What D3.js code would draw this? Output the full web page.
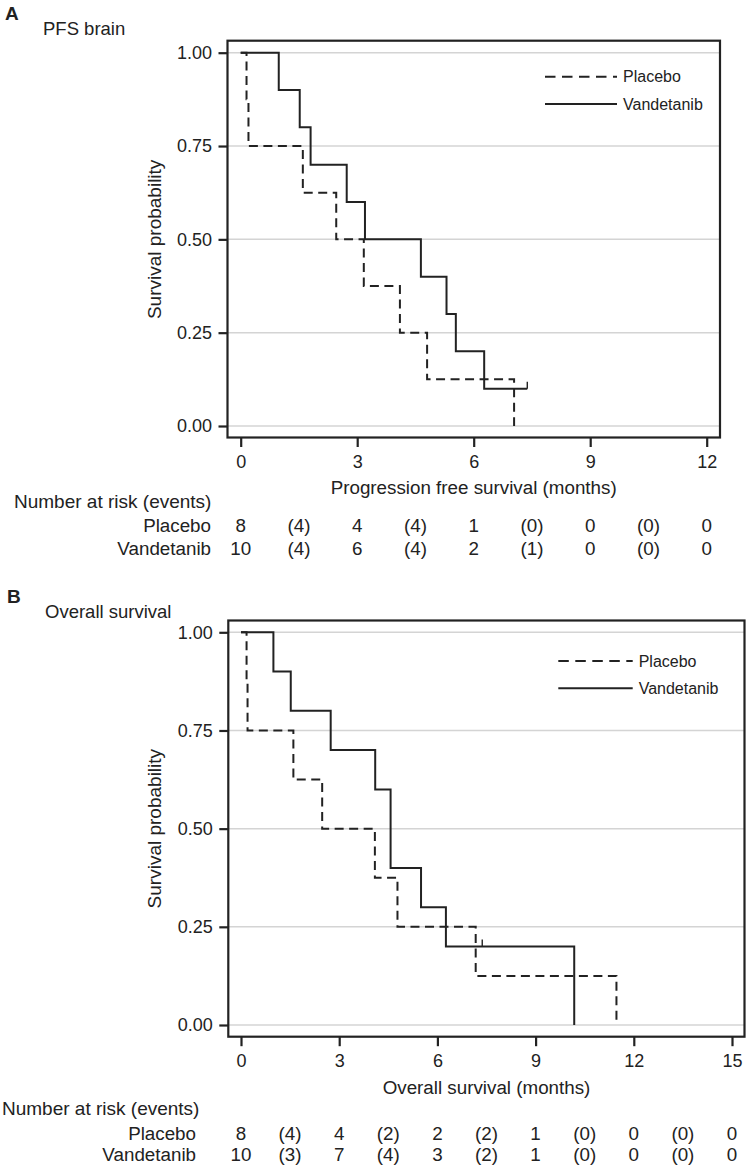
<!DOCTYPE html>
<html>
<head>
<meta charset="utf-8">
<script src="https://cdn.jsdelivr.net/npm/d3@7"></script>
<style>
  html, body { margin: 0; padding: 0; background: #fff; }
  svg text { font-family: "Liberation Sans", Arial, Helvetica, sans-serif; fill: #222; }
</style>
</head>
<body>
<svg id="chart" width="746" height="1167"></svg>
<script>
// ---------------- DATA ----------------
// Panel A: PFS brain
const pfsPlaceboTime = [0, 0.15, 0.2, 1.6, 2.46, 3.17, 4.1, 4.8, 7.04];
const pfsPlaceboSurv = [1, 0.875, 0.75, 0.625, 0.5, 0.375, 0.25, 0.125, 0];
const pfsVandTime = [0, 0.98, 1.52, 1.8, 2.73, 3.2, 4.64, 5.3, 5.54, 6.27, 7.38];
const pfsVandSurv = [1, 0.9, 0.8, 0.7, 0.6, 0.5, 0.4, 0.3, 0.2, 0.1, 0.1];
const pfsVandCensorTime = [7.38];
const pfsVandCensorSurv = [0.1];
const pfsXTicks = [0, 3, 6, 9, 12];
const pfsRiskTimes = [0, 1.5, 3, 4.5, 6, 7.5, 9, 10.5, 12];
const pfsRiskPlacebo = ["8", "(4)", "4", "(4)", "1", "(0)", "0", "(0)", "0"];
const pfsRiskVand = ["10", "(4)", "6", "(4)", "2", "(1)", "0", "(0)", "0"];

// Panel B: Overall survival
const osPlaceboTime = [0, 0.17, 0.2, 1.6, 2.48, 4.09, 4.78, 7.17, 11.47];
const osPlaceboSurv = [1, 0.875, 0.75, 0.625, 0.5, 0.375, 0.25, 0.125, 0];
const osVandTime = [0, 0.99, 1.52, 2.74, 4.1, 4.57, 5.5, 6.26, 10.18];
const osVandSurv = [1, 0.9, 0.8, 0.7, 0.6, 0.4, 0.3, 0.2, 0];
const osVandCensorTime = [7.37];
const osVandCensorSurv = [0.2];
const osXTicks = [0, 3, 6, 9, 12, 15];
const osRiskTimes = [0, 1.5, 3, 4.5, 6, 7.5, 9, 10.5, 12, 13.5, 15];
const osRiskPlacebo = ["8", "(4)", "4", "(2)", "2", "(2)", "1", "(0)", "0", "(0)", "0"];
const osRiskVand = ["10", "(3)", "7", "(4)", "3", "(2)", "1", "(0)", "0", "(0)", "0"];

const yTicks = [0, 0.25, 0.5, 0.75, 1];
const seriesNames = ["Placebo", "Vandetanib"];

// ---------------- DRAW ----------------
const svg = d3.select("#chart");
const INK = "#222";

function zip(t, s) { return t.map((d, i) => ({ t: d, s: s[i] })); }

function panel(cfg) {
  const g = svg.append("g");
  const x = d3.scaleLinear().domain([0, cfg.xMax]).range([cfg.x0, cfg.x1]);
  const y = d3.scaleLinear().domain([0, 1]).range([cfg.y0, cfg.y1]);

  // panel letter and title
  g.append("text").attr("x", cfg.letterX).attr("y", cfg.letterY)
    .attr("font-size", 19).attr("font-weight", "bold").text(cfg.letter);
  g.append("text").attr("x", cfg.titleX).attr("y", cfg.titleY)
    .attr("font-size", 18.5).text(cfg.title);

  // gridlines
  g.append("g").selectAll("line").data(yTicks).join("line")
    .attr("x1", cfg.frameL).attr("x2", cfg.frameR)
    .attr("y1", d => y(d)).attr("y2", d => y(d))
    .attr("stroke", "#d4d4d4").attr("stroke-width", 1.5);

  // frame
  g.append("rect").attr("x", cfg.frameL).attr("y", cfg.frameT)
    .attr("width", cfg.frameR - cfg.frameL).attr("height", cfg.frameB - cfg.frameT)
    .attr("fill", "none").attr("stroke", INK).attr("stroke-width", 2.2);

  // y axis
  const ya = g.append("g").attr("transform", `translate(${cfg.frameL},0)`)
    .call(d3.axisLeft(y).tickValues(yTicks).tickFormat(d3.format(".2f")).tickSize(9).tickPadding(6.5));
  ya.select(".domain").remove();
  ya.selectAll(".tick line").attr("stroke", INK).attr("stroke-width", 2.2);
  ya.selectAll(".tick text").attr("font-size", 18).attr("fill", INK)
    .style("font-family", '"Liberation Sans", Arial, sans-serif');

  // x axis
  const xa = g.append("g").attr("transform", `translate(0,${cfg.frameB})`)
    .call(d3.axisBottom(x).tickValues(cfg.xTicks).tickFormat(d3.format("d")).tickSize(9.5).tickPadding(8.5));
  xa.select(".domain").remove();
  xa.selectAll(".tick line").attr("stroke", INK).attr("stroke-width", 2.2);
  xa.selectAll(".tick text").attr("font-size", 18).attr("fill", INK)
    .style("font-family", '"Liberation Sans", Arial, sans-serif');

  // axis titles
  g.append("text").attr("x", (x(0) + x(cfg.xMax)) / 2).attr("y", cfg.xTitleY)
    .attr("text-anchor", "middle").attr("font-size", 18.8).text(cfg.xTitle);
  g.append("text")
    .attr("transform", `translate(${cfg.yTitleX},${(y(0) + y(1)) / 2}) rotate(-90)`)
    .attr("text-anchor", "middle").attr("font-size", 19).text("Survival probability");

  // curves
  const line = d3.line().x(d => x(d.t)).y(d => y(d.s)).curve(d3.curveStepAfter);
  g.append("path").datum(zip(cfg.plT, cfg.plS)).attr("d", line)
    .attr("fill", "none").attr("stroke", INK).attr("stroke-width", 2)
    .attr("stroke-dasharray", "9,5.5");
  g.append("path").datum(zip(cfg.vaT, cfg.vaS)).attr("d", line)
    .attr("fill", "none").attr("stroke", INK).attr("stroke-width", 2);
  // censor marks
  g.append("g").selectAll("line").data(zip(cfg.cT, cfg.cS)).join("line")
    .attr("x1", d => x(d.t)).attr("x2", d => x(d.t))
    .attr("y1", d => y(d.s)).attr("y2", d => y(d.s) - 7)
    .attr("stroke", INK).attr("stroke-width", 1.4);

  // legend
  const lg = g.append("g");
  seriesNames.forEach((name, i) => {
    const ly = cfg.legY + i * cfg.legGap;
    lg.append("line").attr("x1", cfg.legX0).attr("x2", cfg.legX1)
      .attr("y1", ly).attr("y2", ly)
      .attr("stroke", INK).attr("stroke-width", 2)
      .attr("stroke-dasharray", i === 0 ? "10.5,6.5" : null);
    lg.append("text").attr("x", cfg.legX1 + 6).attr("y", ly).attr("dy", "0.35em")
      .attr("font-size", 16).text(name);
  });

  // number at risk table
  g.append("text").attr("x", cfg.riskHeadX).attr("y", cfg.riskHeadY)
    .attr("font-size", 19).text("Number at risk (events)");
  const rows = [cfg.riskPl, cfg.riskVa];
  rows.forEach((vals, r) => {
    const ry = cfg.riskRowY[r];
    g.append("text").attr("x", cfg.riskLabelX).attr("y", ry)
      .attr("text-anchor", "end").attr("font-size", 18.8).text(seriesNames[r]);
    g.append("g").selectAll("text").data(vals).join("text")
      .attr("x", (d, i) => x(cfg.riskTimes[i])).attr("y", ry)
      .attr("text-anchor", "middle").attr("font-size", 18.8).text(d => d);
  });
}

panel({
  letter: "A", letterX: 5, letterY: 20,
  title: "PFS brain", titleX: 43, titleY: 35,
  xMax: 12, x0: 240.7, x1: 706.7, y0: 426, y1: 52.7,
  frameL: 227.5, frameR: 720, frameT: 40.7, frameB: 437.5,
  xTicks: pfsXTicks, xTitle: "Progression free survival (months)", xTitleY: 494,
  yTitleX: 161,
  plT: pfsPlaceboTime, plS: pfsPlaceboSurv, vaT: pfsVandTime, vaS: pfsVandSurv,
  cT: pfsVandCensorTime, cS: pfsVandCensorSurv,
  legX0: 545, legX1: 617, legY: 76.7, legGap: 27.3,
  riskHeadX: 14, riskHeadY: 508, riskLabelX: 211, riskRowY: [531.5, 554.5],
  riskTimes: pfsRiskTimes, riskPl: pfsRiskPlacebo, riskVa: pfsRiskVand
});

panel({
  letter: "B", letterX: 7, letterY: 603,
  title: "Overall survival", titleX: 45, titleY: 618,
  xMax: 15, x0: 241, x1: 732, y0: 1025, y1: 632.3,
  frameL: 228.3, frameR: 744.5, frameT: 620.5, frameB: 1036.7,
  xTicks: osXTicks, xTitle: "Overall survival (months)", xTitleY: 1094,
  yTitleX: 161,
  plT: osPlaceboTime, plS: osPlaceboSurv, vaT: osVandTime, vaS: osVandSurv,
  cT: osVandCensorTime, cS: osVandCensorSurv,
  legX0: 558.3, legX1: 632.7, legY: 661, legGap: 27.3,
  riskHeadX: 2, riskHeadY: 1115, riskLabelX: 196, riskRowY: [1140, 1160.7],
  riskTimes: osRiskTimes, riskPl: osRiskPlacebo, riskVa: osRiskVand
});
</script>
</body>
</html>
